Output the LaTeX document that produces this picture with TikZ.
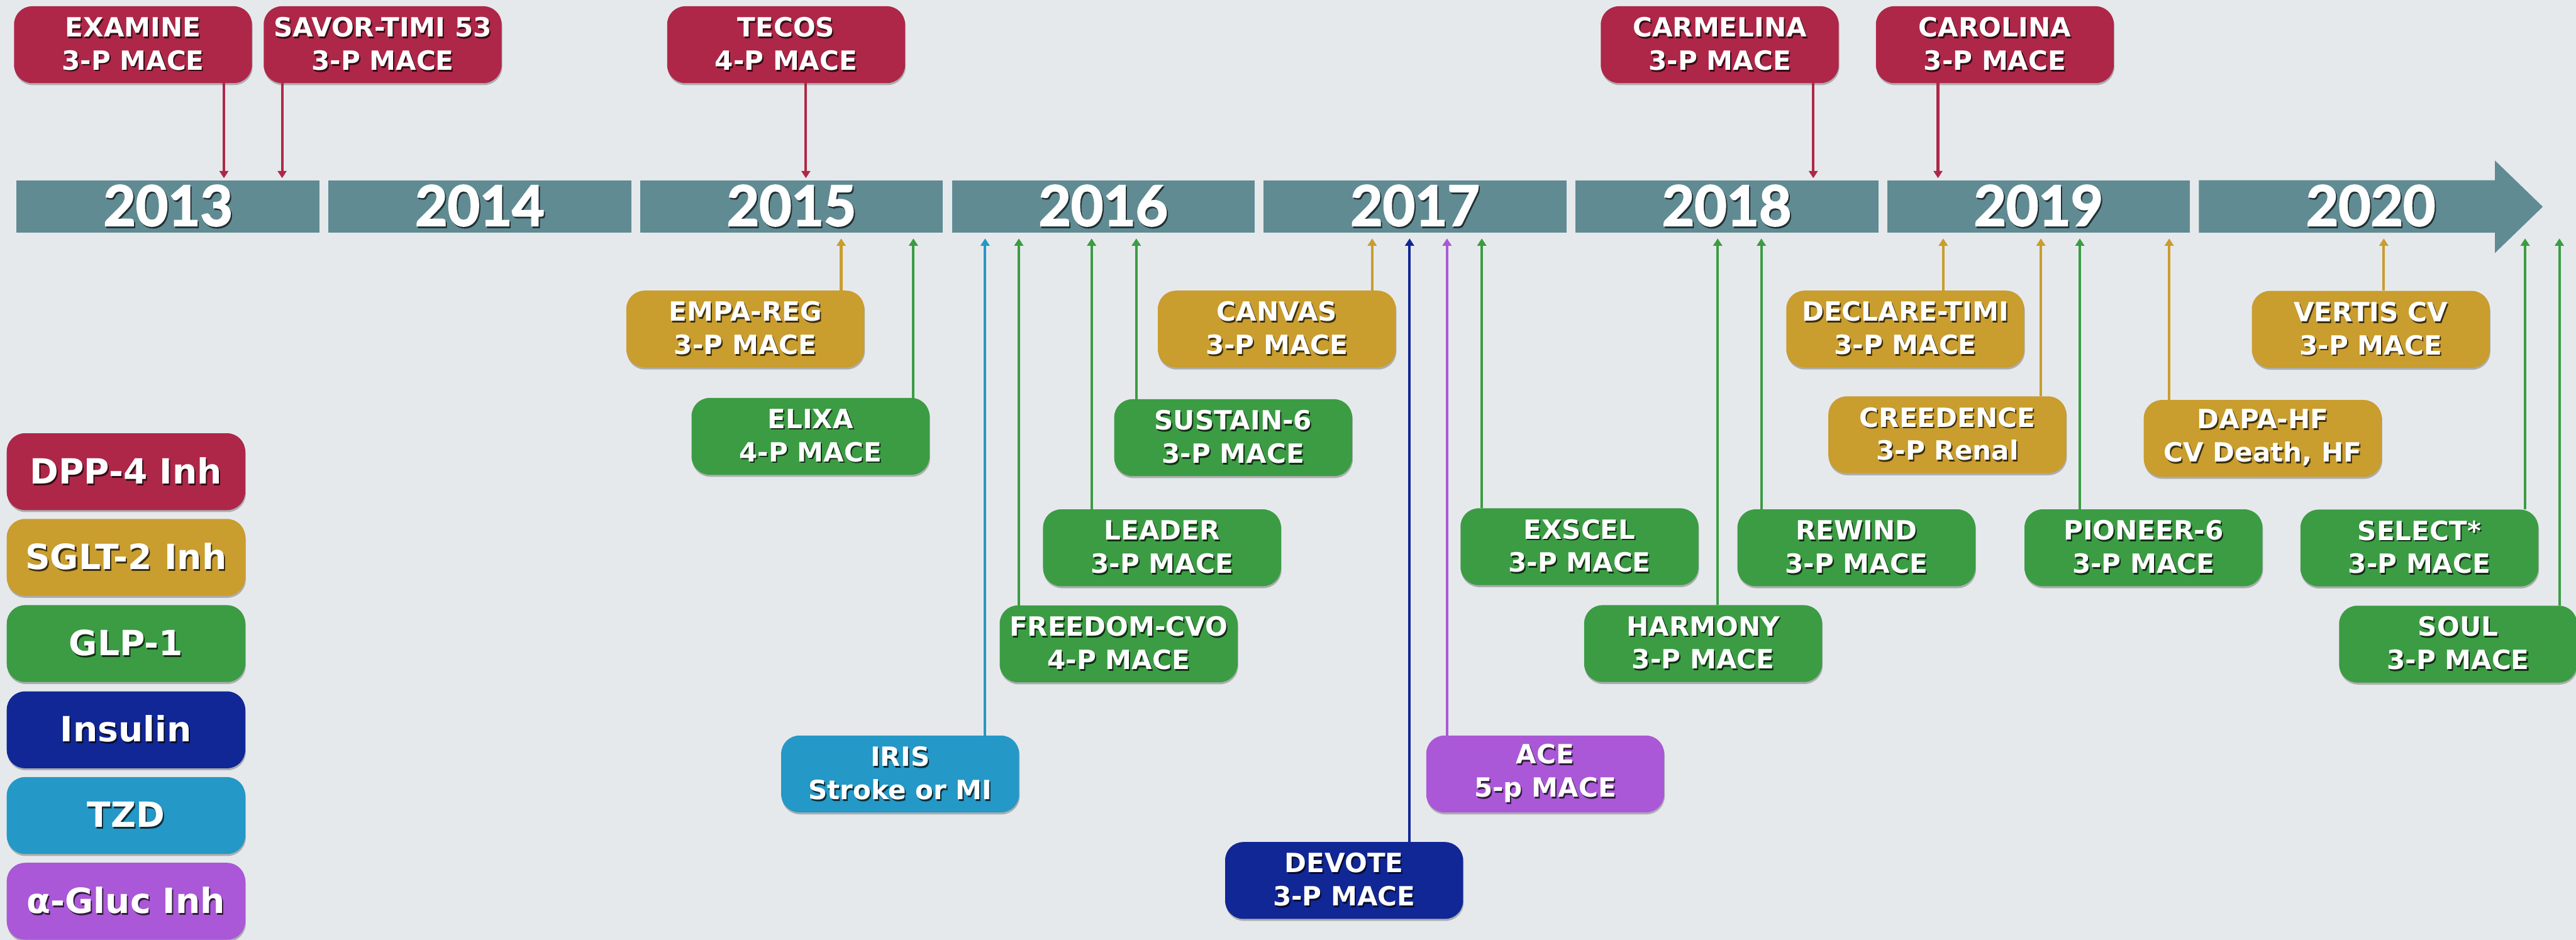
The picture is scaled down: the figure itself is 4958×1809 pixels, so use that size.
\documentclass[tikz,border=0pt]{standalone}
\usepackage{fontspec}
\setmainfont{DejaVu Sans}
\newfontfamily\boxf{DejaVu Sans}
\newfontfamily\yearf{Lato}[BoldFeatures={FakeBold=2.5}]
\usetikzlibrary{arrows.meta,shadows}

\definecolor{bgc}{RGB}{230,233,236}
\definecolor{dppc}{RGB}{174,39,72}
\definecolor{sgltc}{RGB}{201,157,46}
\definecolor{glpc}{RGB}{59,156,68}
\definecolor{insc}{RGB}{17,39,150}
\definecolor{tzdc}{RGB}{36,152,198}
\definecolor{glucc}{RGB}{170,88,215}
\definecolor{barc}{RGB}{96,139,147}
\colorlet{tshadow}{black}

% white text with a darker offset copy underneath
\newcommand\tsh[1]{\leavevmode\rlap{\kern1.4pt\raisebox{-1.9pt}{\textcolor{tshadow}{#1}}}#1}

% trial above the timeline, arrow pointing down onto the bar
\newcommand\trialdown[6]{%
  \node[tbox=#3] (#1) at (#2,86) {\tsh{#5}\\\tsh{#6}};
  \coordinate (#1-tip) at (#4,343);
  \draw[conn=#3] (#1.south -| #1-tip) -- (#1-tip);}
% trial below the timeline, arrow pointing up to the bar
\newcommand\trialup[7]{%
  \node[tbox=#4] (#1) at (#2,#3) {\tsh{#6}\\\tsh{#7}};
  \coordinate (#1-tip) at (#5,459);
  \draw[conn=#4] (#1.north -| #1-tip) -- (#1-tip);}

\begin{document}
\begin{tikzpicture}[x=0.2mm,y=-0.2mm,
  tbox/.style={rectangle, rounded corners=7mm, minimum width=91.6mm,
    minimum height=29.6mm, inner sep=0pt, align=center, text=white, fill=#1,
    font=\boxf\bfseries\fontsize{29}{36.4}\selectfont,
    execute at begin node={\colorlet{tshadow}{#1!30!black}},
    drop shadow={shadow xshift=0.6pt, shadow yshift=-2.2pt, opacity=0.25, fill=black}},
  lgbox/.style={tbox=#1, minimum width=91.8mm,
    font=\boxf\bfseries\fontsize{38}{40}\selectfont},
  yeartext/.style={text=white, inner sep=0pt,
    font=\yearf\bfseries\fontsize{61}{61}\selectfont,
    execute at begin node={\colorlet{tshadow}{barc!35!black}}},
  yearseg/.style={rectangle, fill=barc, minimum width=116.6mm,
    minimum height=20.2mm, yeartext},
  conn/.style={line width=1mm, draw=#1, -{Triangle[length=2.8mm,width=3.4mm]}},
]
\useasboundingbox (0,0) rectangle (4958,1809);
\fill[bgc] (0,0) rectangle (4958,1809);

% timeline
\foreach \yr [count=\i from 0] in {2013,2014,2015,2016,2017,2018,2019}
  \node[yearseg] (y\yr) at ({323.5+600*\i},397.5) {\tsh{\yr}};
\fill[barc] (4232,347) -- (4802,347) -- (4802,309) -- (4894,398)
  -- (4802,487) -- (4802,448) -- (4232,448) -- cycle;
\node[yeartext] (y2020) at (4563,397.5) {\tsh{2020}};

% DPP-4 inhibitor trials (above)
\trialdown{examine}{256}{dppc}{431}{EXAMINE}{3-P MACE}
\trialdown{savor}{736.5}{dppc}{543}{SAVOR-TIMI 53}{3-P MACE}
\trialdown{tecos}{1513}{dppc}{1551}{TECOS}{4-P MACE}
\trialdown{carmelina}{3310}{dppc}{3490}{CARMELINA}{3-P MACE}
\trialdown{carolina}{3839.5}{dppc}{3730}{CAROLINA}{3-P MACE}

% trials below the timeline
\trialup{empa}{1434.5}{633.5}{sgltc}{1619}{EMPA-REG}{3-P MACE}
\trialup{elixa}{1560}{840}{glpc}{1758}{ELIXA}{4-P MACE}
\trialup{iris}{1732.5}{1490}{tzdc}{1896}{IRIS}{Stroke or MI}
\trialup{freedom}{2153}{1239.5}{glpc}{1961}{FREEDOM-CVO}{4-P MACE}
\trialup{leader}{2236.5}{1054.5}{glpc}{2101}{LEADER}{3-P MACE}
\trialup{sustain}{2373.5}{842.5}{glpc}{2187}{SUSTAIN-6}{3-P MACE}
\trialup{canvas}{2457.5}{633.5}{sgltc}{2641}{CANVAS}{3-P MACE}
\trialup{devote}{2587}{1695}{insc}{2713}{DEVOTE}{3-P MACE}
\trialup{ace}{2974}{1490}{glucc}{2785}{ACE}{5-p MACE}
\trialup{exscel}{3040}{1052.5}{glpc}{2852}{EXSCEL}{3-P MACE}
\trialup{harmony}{3278}{1239}{glpc}{3306}{HARMONY}{3-P MACE}
\trialup{rewind}{3573}{1054.5}{glpc}{3390}{REWIND}{3-P MACE}
\trialup{declare}{3667}{633.5}{sgltc}{3740}{DECLARE-TIMI}{3-P MACE}
\trialup{creedence}{3748}{837}{sgltc}{3928}{CREEDENCE}{3-P Renal}
\trialup{pioneer}{4125.5}{1054.5}{glpc}{4003}{PIONEER-6}{3-P MACE}
\trialup{dapa}{4355}{844}{sgltc}{4175}{DAPA-HF}{CV Death, HF}
\trialup{vertis}{4563}{634}{sgltc}{4588}{VERTIS CV}{3-P MACE}
\trialup{select}{4656.5}{1055}{glpc}{4860}{SELECT*}{3-P MACE}
\trialup{soul}{4731}{1240}{glpc}{4926}{SOUL}{3-P MACE}

% legend
\node[lgbox=dppc]  (lg-dpp)  at (242.5,908)  {\tsh{DPP-4 Inh}};
\node[lgbox=sgltc] (lg-sglt) at (242.5,1073) {\tsh{SGLT-2 Inh}};
\node[lgbox=glpc]  (lg-glp)  at (242.5,1239) {\tsh{GLP-1}};
\node[lgbox=insc]  (lg-ins)  at (242.5,1405) {\tsh{Insulin}};
\node[lgbox=tzdc]  (lg-tzd)  at (242.5,1570) {\tsh{TZD}};
\node[lgbox=glucc] (lg-gluc) at (242.5,1735) {\tsh{α-Gluc Inh}};
\end{tikzpicture}
\end{document}
